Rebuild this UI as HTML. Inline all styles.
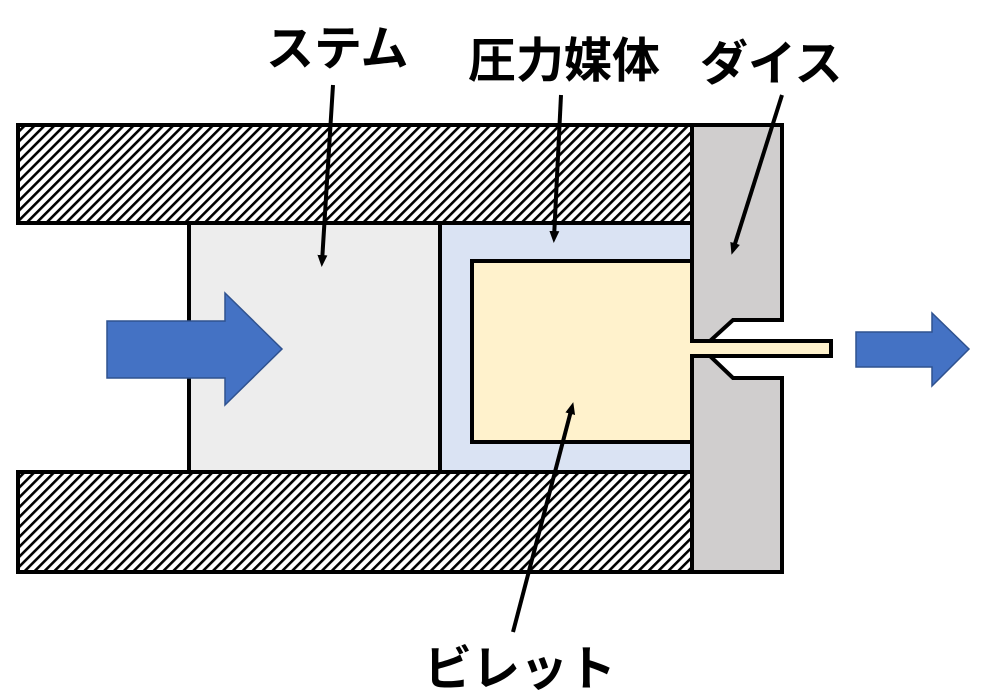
<!DOCTYPE html>
<html><head><meta charset="utf-8"><style>
html,body{margin:0;padding:0;background:#fff;width:991px;height:695px;overflow:hidden}
svg text{font-family:"Liberation Sans","Noto Sans CJK JP",sans-serif;font-weight:bold;font-size:48px;fill:#000}
</style></head><body>
<svg width="991" height="695" viewBox="0 0 991 695" xmlns="http://www.w3.org/2000/svg">
<defs>
<pattern id="h" patternUnits="userSpaceOnUse" width="7" height="7" patternTransform="rotate(45)">
<rect width="7" height="7" fill="#fff"/>
<rect x="0" y="0" width="2.6" height="7" fill="#000"/>
</pattern>
<marker id="a" markerWidth="12" markerHeight="12" refX="7" refY="6" orient="auto" markerUnits="userSpaceOnUse">
<path d="M0,1 L12,6 L0,11 Z" fill="#000"/>
</marker>
</defs>
<rect x="18" y="125" width="674" height="98" fill="url(#h)" stroke="#000" stroke-width="4"/>
<rect x="18" y="472" width="674" height="100" fill="url(#h)" stroke="#000" stroke-width="4"/>
<rect x="189" y="223" width="251" height="249" fill="#ededed" stroke="#000" stroke-width="4"/>
<rect x="440" y="223" width="252" height="249" fill="#dae3f3" stroke="#000" stroke-width="4"/>
<rect x="472" y="261" width="220" height="181" fill="#fff2cc" stroke="#000" stroke-width="4"/>
<polygon points="692,125 782,125 782,320 733,320 710,341 692,341 692,356 710,356 733,378 782,378 782,572 692,572" fill="#d0cece" stroke="#000" stroke-width="4" stroke-linejoin="miter"/>
<rect x="692" y="341" width="139" height="15" fill="#fff2cc" stroke="#000" stroke-width="4"/>
<rect x="688" y="343" width="8" height="11" fill="#fff2cc"/>
<polygon points="107,321 225,321 225,293 282,349 225,405 225,378 107,378" fill="#4472c4" stroke="#2f528f" stroke-width="1.5"/>
<polygon points="856,332 932,332 932,313 969,349 932,386 932,367 856,367" fill="#4472c4" stroke="#2f528f" stroke-width="1.5"/>
<g stroke="#000" stroke-width="4" marker-end="url(#a)">
<line x1="333" y1="85" x2="322" y2="262"/>
<line x1="561" y1="95" x2="554" y2="238"/>
<line x1="782" y1="95" x2="733" y2="250"/>
<line x1="513" y1="632" x2="572" y2="407"/>
</g>
<text x="266" y="65">ステム</text>
<text x="468" y="77">圧力媒体</text>
<text x="700" y="80">ダイス</text>
<text x="424" y="685">ビレット</text>
</svg>
</body></html>
